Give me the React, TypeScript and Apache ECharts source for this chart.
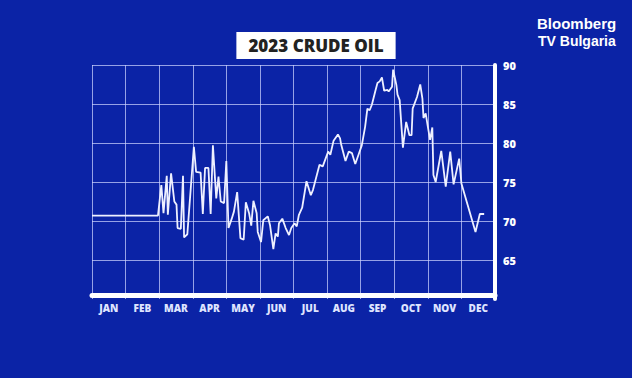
import React, { useEffect, useRef } from "react";
import * as echarts from "echarts";

const months = ["JAN", "FEB", "MAR", "APR", "MAY", "JUN", "JUL", "AUG", "SEP", "OCT", "NOV", "DEC"];
const yTicks = [60, 65, 70, 75, 80, 85, 90];

const dates = [
  "01-01", "02-28", "03-03", "03-05", "03-08", "03-09", "03-12", "03-15", "03-17", "03-18",
  "03-21", "03-23", "03-24", "03-27", "04-02", "04-04", "04-08", "04-10", "04-12", "04-15",
  "04-17", "04-19", "04-22", "04-24", "04-26", "04-29", "05-01", "05-03", "05-06", "05-08",
  "05-11", "05-14", "05-17", "05-19", "05-22", "05-24", "05-26", "05-29", "05-30", "06-02",
  "06-04", "06-08", "06-10", "06-13", "06-15", "06-17", "06-18", "06-21", "06-24", "06-27",
  "06-29", "07-02", "07-04", "07-06", "07-09", "07-13", "07-17", "07-19", "07-25", "07-28",
  "08-02", "08-04", "08-07", "08-11", "08-13", "08-14", "08-18", "08-21", "08-24", "08-27",
  "08-30", "09-02", "09-05", "09-07", "09-09", "09-11", "09-14", "09-16", "09-18", "09-20",
  "09-22", "09-25", "09-26", "09-29", "09-30", "10-03", "10-04", "10-06", "10-09", "10-12",
  "10-15", "10-17", "10-18", "10-22", "10-25", "10-27", "10-28", "10-30", "11-01", "11-03",
  "11-05", "11-06", "11-08", "11-13", "11-17", "11-21", "11-24", "11-29", "12-01", "12-14",
  "12-18", "12-22",
];

const prices = [
  70.7, 70.7, 74.6, 71.0, 75.8, 70.8, 76.1, 72.5, 72.1, 69.1,
  69.0, 75.8, 67.9, 68.3, 79.5, 76.3, 76.2, 70.9, 76.8, 76.8,
  70.9, 79.7, 72.9, 75.7, 72.5, 72.3, 77.7, 69.1, 70.3, 71.2,
  73.7, 67.8, 67.6, 72.4, 71.0, 69.4, 72.6, 71.0, 68.6, 67.3,
  70.1, 70.6, 69.5, 66.4, 68.4, 68.0, 69.7, 70.3, 69.1, 68.2,
  69.1, 69.7, 69.3, 70.8, 71.7, 75.1, 73.3, 74.0, 77.2, 77.0,
  78.9, 78.5, 80.3, 81.1, 80.6, 79.8, 77.7, 78.9, 78.7, 77.3,
  78.5, 79.7, 82.1, 84.4, 84.2, 84.9, 86.6, 87.7, 87.9, 88.4,
  86.7, 86.8, 86.6, 87.2, 89.4, 87.4, 86.2, 85.5, 79.4, 82.7,
  81.0, 81.0, 84.4, 85.9, 87.5, 85.7, 83.2, 83.8, 82.1, 80.4,
  82.0, 75.9, 75.0, 79.0, 74.4, 78.9, 74.7, 78.0, 74.8, 68.6,
  70.9, 70.9,
];

function monthPos(d: string): number {
  const [m, day] = d.split("-").map(Number);
  const dim = new Date(2023, m, 0).getDate();
  return m - 1 + (day - 1) / dim;
}

export default function App() {
  const ref = useRef<HTMLDivElement>(null);
  useEffect(() => {
    if (!ref.current) return;
    const chart = echarts.init(ref.current, null, { renderer: "svg" });
    const seriesData = dates.map((d, i) => [monthPos(d), prices[i]]);
    const gridColor = "rgba(205,212,255,0.72)";
    chart.setOption({
      animation: false,
      backgroundColor: "#0b23a6",
      title: {
        text: "2023 CRUDE OIL",
        left: "center",
        top: 32,
        backgroundColor: "#ffffff",
        padding: [5, 12, 5, 12],
        textStyle: {
          color: "#222222",
          fontFamily: "Open Sans",
          fontWeight: 800,
          fontSize: 17,
          lineHeight: 17,
        },
      },
      graphic: [
        {
          type: "text",
          left: 537,
          top: 16,
          style: {
            text: "Bloomberg",
            fill: "#ffffff",
            font: 'bold 15px "Liberation Sans"',
            lineHeight: 15,
            align: "left",
          },
        },
        {
          type: "text",
          left: 538,
          top: 34,
          style: {
            text: "TV Bulgaria",
            fill: "#ffffff",
            font: 'bold 14px "Liberation Sans"',
            lineHeight: 12,
            align: "left",
          },
        },
      ],
      grid: { left: 92, right: 137, top: 65, bottom: 79, containLabel: false },
      xAxis: [
        {
          type: "category",
          data: months,
          boundaryGap: true,
          offset: -4,
          axisLine: { show: true, onZero: false, lineStyle: { color: "#ffffff", width: 5 } },
          axisTick: { show: false },
          axisLabel: {
            color: "#dfe4ff",
            fontFamily: "Open Sans",
            fontWeight: 800,
            fontSize: 10,
            margin: 8,
            interval: 0,
          },
          splitLine: { show: true, lineStyle: { color: gridColor, width: 1 } },
        },
        {
          type: "value",
          min: 0,
          max: 12,
          show: false,
        },
      ],
      yAxis: {
        type: "value",
        position: "right",
        min: yTicks[0],
        max: yTicks[yTicks.length - 1],
        interval: 5,
        axisLine: { show: true, onZero: false, lineStyle: { color: "#ffffff", width: 4 } },
        axisTick: { show: false },
        axisLabel: {
          color: "#ffffff",
          fontFamily: "Open Sans",
          fontWeight: 800,
          fontSize: 11,
          margin: 8,
          formatter: (v: number) => (v === yTicks[0] ? "" : String(v)),
        },
        splitLine: { show: true, showMinLine: false, lineStyle: { color: gridColor, width: 1 } },
      },
      series: [
        {
          type: "line",
          xAxisIndex: 1,
          data: seriesData,
          showSymbol: false,
          symbol: "none",
          lineStyle: { color: "#eef0ff", width: 1.8 },
          z: 3,
        },
      ],
    });
    return () => chart.dispose();
  }, []);
  return <div ref={ref} style={{ width: 632, height: 378, position: "fixed", left: 0, top: 0 }} />;
}
